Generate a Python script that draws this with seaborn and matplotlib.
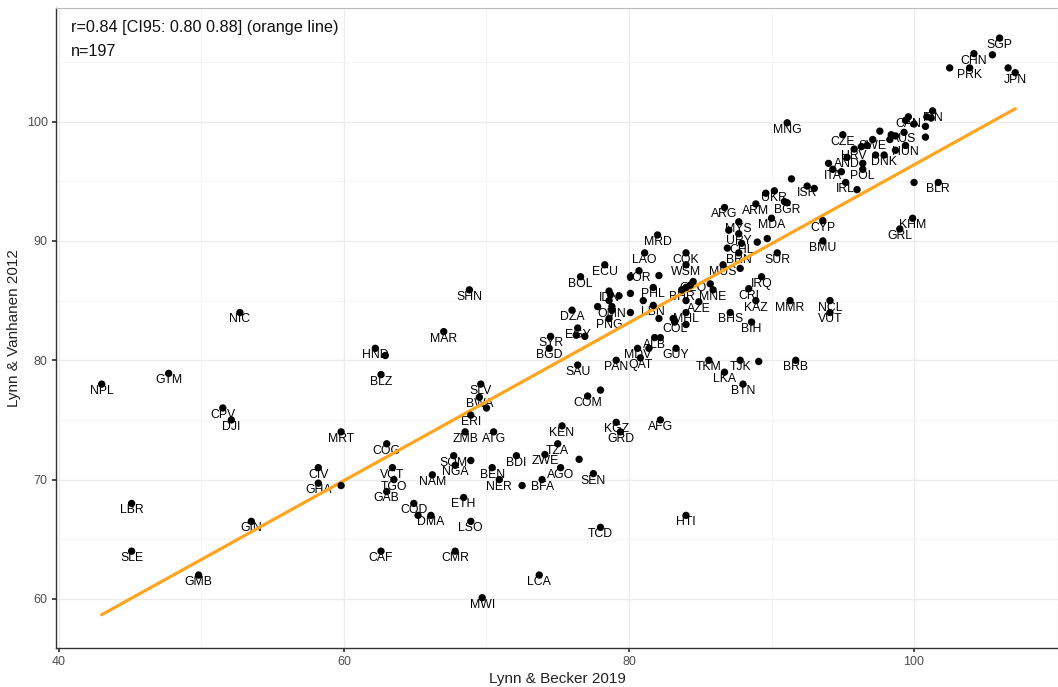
import numpy as np
import pandas as pd
import matplotlib
matplotlib.use("Agg")
import matplotlib.pyplot as plt
import seaborn as sns

# country code, Lynn & Becker 2019, Lynn & Vanhanen 2012 ("" = unlabeled point)
codes = ["NPL", "GTM", "NIC", "CPV", "DJI", "LBR", "SLE", "GMB", "GIN", "SHN",
         "MAR", "HND", "", "BLZ", "SLV", "BWA", "", "ERI", "MRT", "ZMB",
         "ATG", "COG", "SYR", "BGD", "CIV", "GHA", "", "VCT", "TGO", "GAB",
         "SOM", "NGA", "", "NAM", "COD", "", "DMA", "ETH", "LSO", "CAF",
         "CMR", "LCA", "MWI", "BDI", "BEN", "NER", "", "BFA", "ZWE", "TZA",
         "AGO", "KEN", "COM", "", "KGZ", "GRD", "AFG", "", "SEN", "HTI",
         "TCD", "MRD", "LAO", "COK", "ECU", "WSM", "BOL", "JOR", "", "",
         "GEO", "", "MNE", "IDN", "", "", "", "OMN", "", "",
         "PNG", "", "PHL", "", "", "LBN", "", "BHR", "", "",
         "", "AZE", "MHL", "", "COL", "", "ALB", "", "MDV", "",
         "QAT", "PAN", "GUY", "SAU", "TKM", "DZA", "EGY", "", "", "ISR",
         "", "IRL", "", "UKR", "", "ARM", "BGR", "", "ARG", "MYS",
         "", "MDA", "CYP", "URY", "", "", "CHL", "", "BMU", "BRN",
         "SUR", "MUS", "", "IRQ", "CRI", "KAZ", "MMR", "NCL", "VUT", "BHS",
         "BIH", "TJK", "", "LKA", "BTN", "BRB", "MNG", "", "CZE", "HRV",
         "AND", "ITA", "", "", "POL", "", "SGP", "CHN", "", "PRK",
         "", "JPN", "", "FIN", "", "", "", "", "", "CAN",
         "", "", "AUS", "", "", "HUN", "", "SWE", "", "",
         "", "DNK", "", "BLR", "", "KHM", "GRL"]

lb2019 = [43.0, 47.7, 52.7, 51.5, 52.1, 45.1, 45.1, 49.8, 53.5, 68.8,
          67.0, 62.2, 62.9, 62.6, 69.6, 69.5, 70.0, 68.9, 59.8, 68.5,
          70.5, 63.0, 74.5, 74.4, 58.2, 58.2, 59.8, 63.4, 63.5, 63.0,
          67.7, 67.8, 68.9, 66.2, 64.9, 65.2, 66.1, 68.4, 68.9, 62.6,
          67.8, 73.7, 69.7, 72.1, 70.4, 70.9, 72.5, 73.9, 74.1, 75.0,
          75.2, 75.3, 77.1, 78.0, 79.1, 79.4, 82.2, 76.5, 77.5, 84.0,
          78.0, 82.0, 81.1, 84.0, 78.3, 84.0, 76.6, 80.7, 80.1, 82.1,
          84.5, 85.7, 85.9, 78.6, 78.7, 79.3, 78.6, 78.8, 77.8, 78.8,
          78.6, 80.1, 81.7, 81.0, 80.1, 81.7, 82.1, 83.7, 84.0, 84.3,
          84.0, 84.9, 84.0, 83.1, 83.2, 84.0, 81.8, 82.2, 80.6, 81.4,
          80.8, 79.1, 83.3, 76.4, 85.6, 76.0, 76.4, 76.3, 76.9, 92.5,
          93.0, 95.2, 96.0, 90.2, 89.6, 88.9, 91.1, 90.9, 86.7, 87.7,
          87.0, 90.0, 93.6, 87.7, 89.0, 89.7, 87.9, 86.9, 93.6, 87.7,
          90.4, 86.6, 87.8, 89.3, 88.4, 88.9, 91.3, 94.1, 94.1, 87.1,
          88.6, 87.8, 89.1, 86.7, 88.0, 91.7, 91.1, 91.4, 95.0, 95.8,
          95.3, 94.3, 94.0, 94.9, 96.4, 96.4, 106.0, 104.2, 105.5, 103.9,
          102.5, 107.1, 106.6, 101.3, 100.9, 101.2, 100.8, 100.8, 99.4, 99.6,
          100.0, 97.6, 99.3, 98.4, 98.7, 99.4, 98.3, 97.1, 96.3, 96.7,
          97.3, 97.9, 98.7, 101.7, 100.0, 99.9, 99.0]

lv2012 = [78.0, 78.9, 84.0, 76.0, 75.0, 68.0, 64.0, 62.0, 66.5, 85.9,
          82.4, 81.0, 80.4, 78.8, 78.0, 76.9, 76.0, 75.4, 74.0, 74.0,
          74.0, 73.0, 82.0, 81.0, 71.0, 69.7, 69.5, 71.0, 70.0, 69.0,
          72.0, 71.2, 71.6, 70.4, 68.0, 67.0, 67.0, 68.5, 66.5, 64.0,
          64.0, 62.0, 60.1, 72.0, 71.0, 70.0, 69.5, 70.0, 72.1, 73.0,
          71.0, 74.5, 77.0, 77.5, 74.8, 74.0, 75.0, 71.7, 70.5, 67.0,
          66.0, 90.5, 89.0, 89.0, 88.0, 88.0, 87.0, 87.5, 87.0, 87.1,
          86.6, 86.4, 85.9, 85.8, 85.5, 85.4, 85.0, 84.5, 84.5, 84.2,
          83.5, 85.6, 86.1, 85.0, 84.0, 84.6, 83.5, 85.9, 86.1, 86.3,
          85.0, 84.9, 84.0, 83.5, 83.2, 83.0, 81.9, 81.9, 81.0, 81.0,
          80.2, 80.0, 81.0, 79.6, 80.0, 84.2, 82.7, 82.1, 82.0, 94.6,
          94.4, 94.9, 94.3, 94.2, 94.0, 93.1, 93.2, 93.3, 92.8, 91.6,
          90.9, 91.9, 91.7, 90.6, 89.9, 90.2, 89.8, 89.4, 90.0, 89.0,
          89.0, 88.0, 87.7, 87.0, 86.0, 85.0, 85.0, 85.0, 84.0, 84.0,
          83.2, 80.0, 79.9, 79.0, 78.0, 80.0, 99.9, 95.2, 98.9, 97.7,
          97.0, 96.0, 96.5, 95.8, 96.0, 96.5, 107.0, 105.7, 105.6, 104.5,
          104.5, 104.1, 104.5, 100.9, 100.4, 100.3, 99.6, 98.7, 100.1, 100.4,
          99.8, 99.2, 99.1, 98.9, 98.8, 98.0, 98.5, 98.5, 97.9, 98.0,
          97.2, 97.2, 97.6, 94.9, 94.9, 91.9, 91.0]

annot_lines = ["r=0.84 [CI95: 0.80 0.88] (orange line)", "n=197"]

df = pd.DataFrame({"code": codes, "x": lb2019, "y": lv2012})

sns.set_theme(style="whitegrid")
plt.rcParams["font.family"] = ["Liberation Sans", "DejaVu Sans"]

fig = plt.figure(figsize=(10.58, 6.87), dpi=100)
ax = fig.add_axes([0.053, 0.057, 0.947, 0.931])

# labels first, then line, then dots on top
for _, r in df[df.code != ""].iterrows():
    ax.annotate(r.code, (r.x, r.y), xytext=(0, -5), textcoords="offset points",
                ha="center", va="center", fontsize=8.8, color="black", zorder=2)

sns.regplot(data=df, x="x", y="y", ax=ax, ci=None, scatter=False,
            line_kws=dict(color="#FFA51F", lw=2.3, zorder=3))
sns.scatterplot(data=df, x="x", y="y", ax=ax, color="black", s=28,
                edgecolor="none", zorder=4)

ax.set_xticks([40, 60, 80, 100])
ax.set_yticks([60, 70, 80, 90, 100])
ax.set_xticks([50, 70, 90], minor=True)
ax.set_yticks([65, 75, 85, 95, 105], minor=True)
ax.set_xlim(39.8, 110.1)
ax.set_ylim(55.9, 109.5)
ax.grid(which="major", color="#EBEBEB", lw=0.9)
ax.grid(which="minor", color="#F4F4F4", lw=0.6)
ax.set_axisbelow(True)
ax.set_facecolor("white")
for side in ["left", "bottom"]:
    ax.spines[side].set_color("#333333")
    ax.spines[side].set_linewidth(1.0)
for side in ["top", "right"]:
    ax.spines[side].set_color("#BBBBBB")
    ax.spines[side].set_linewidth(0.8)
ax.tick_params(axis="both", which="major", length=3, color="#333333",
               labelsize=9, labelcolor="#4D4D4D", pad=3, bottom=True, left=True)
ax.tick_params(which="minor", length=0)
ax.set_xlabel("Lynn & Becker 2019", fontsize=11, color="#222222", labelpad=3)
ax.set_ylabel("Lynn & Vanhanen 2012", fontsize=11, color="#222222", labelpad=4)

ax.text(0.015, 0.982, annot_lines[0], transform=ax.transAxes, fontsize=11.7,
        ha="left", va="top", color="#111111")
ax.text(0.015, 0.944, annot_lines[1], transform=ax.transAxes, fontsize=11.7,
        ha="left", va="top", color="#111111")

fig.savefig("out.png", dpi=100)
